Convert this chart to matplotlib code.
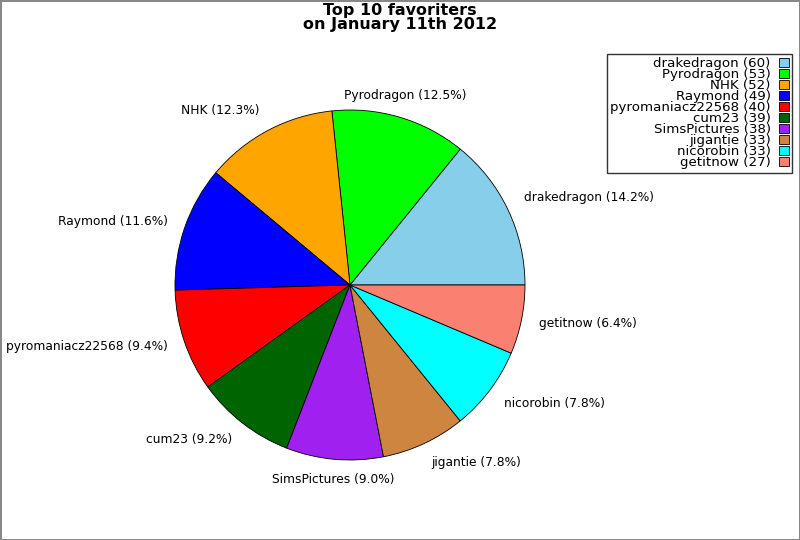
import matplotlib
matplotlib.use("Agg")
import matplotlib.pyplot as plt
import numpy as np

names = ["drakedragon", "Pyrodragon", "NHK", "Raymond", "pyromaniacz22568",
         "cum23", "SimsPictures", "jigantie", "nicorobin", "getitnow"]
counts = [60, 53, 52, 49, 40, 39, 38, 33, 33, 27]
colors = ["#87CEEB", "#00FF00", "#FFA500", "#0000FF", "#FF0000",
          "#006400", "#A020F0", "#CD853F", "#00FFFF", "#FA8072"]

total = sum(counts)
pie_labels = [f"{n} ({c / total * 100:.1f}%)" for n, c in zip(names, counts)]
legend_labels = [f"{n} ({c})" for n, c in zip(names, counts)]

fig = plt.figure(figsize=(8, 5.4), dpi=100)
fig.patch.set_edgecolor("#888888")
fig.patch.set_linewidth(2)

ax = fig.add_axes([175 / 800, 80 / 540, 350 / 800, 350 / 540])
wedges, texts = ax.pie(counts, labels=pie_labels, colors=colors, startangle=0,
                       counterclock=True, labeldistance=1.1,
                       wedgeprops={"edgecolor": "black", "linewidth": 0.6},
                       textprops={"fontsize": 8.8})
ax.set_aspect("equal")
ax.set_xlim(-1, 1)
ax.set_ylim(-1, 1)

# labels near the top/bottom are centred, and nudged a bit away from the pie
for t in texts:
    x, y = t.get_position()
    r = np.hypot(x, y)
    if abs(x) / r < 0.3:
        t.set_ha("center")
    if y / r > 0.35:
        y += 0.028
    elif y / r < -0.35:
        y -= 0.016
    t.set_position((x, y))

fig.text(0.5, 0.995, "Top 10 favoriters\non January 11th 2012", ha="center", va="top",
         fontsize=11.5, fontweight="bold", linespacing=0.92)

leg = fig.legend(wedges, legend_labels, loc="upper right", bbox_to_anchor=(0.99, 0.90),
                 markerfirst=False, fontsize=9.6, labelspacing=-0.15, handlelength=0.75,
                 handleheight=0.7, handletextpad=0.6, borderpad=0.25, frameon=True,
                 fancybox=False, borderaxespad=0)
leg.get_frame().set_edgecolor("black")
leg.get_frame().set_linewidth(1)
for t in leg.get_texts():
    t.set_ha("right")
leg._legend_box.align = "right"

fig.savefig("out.png", dpi=100)
